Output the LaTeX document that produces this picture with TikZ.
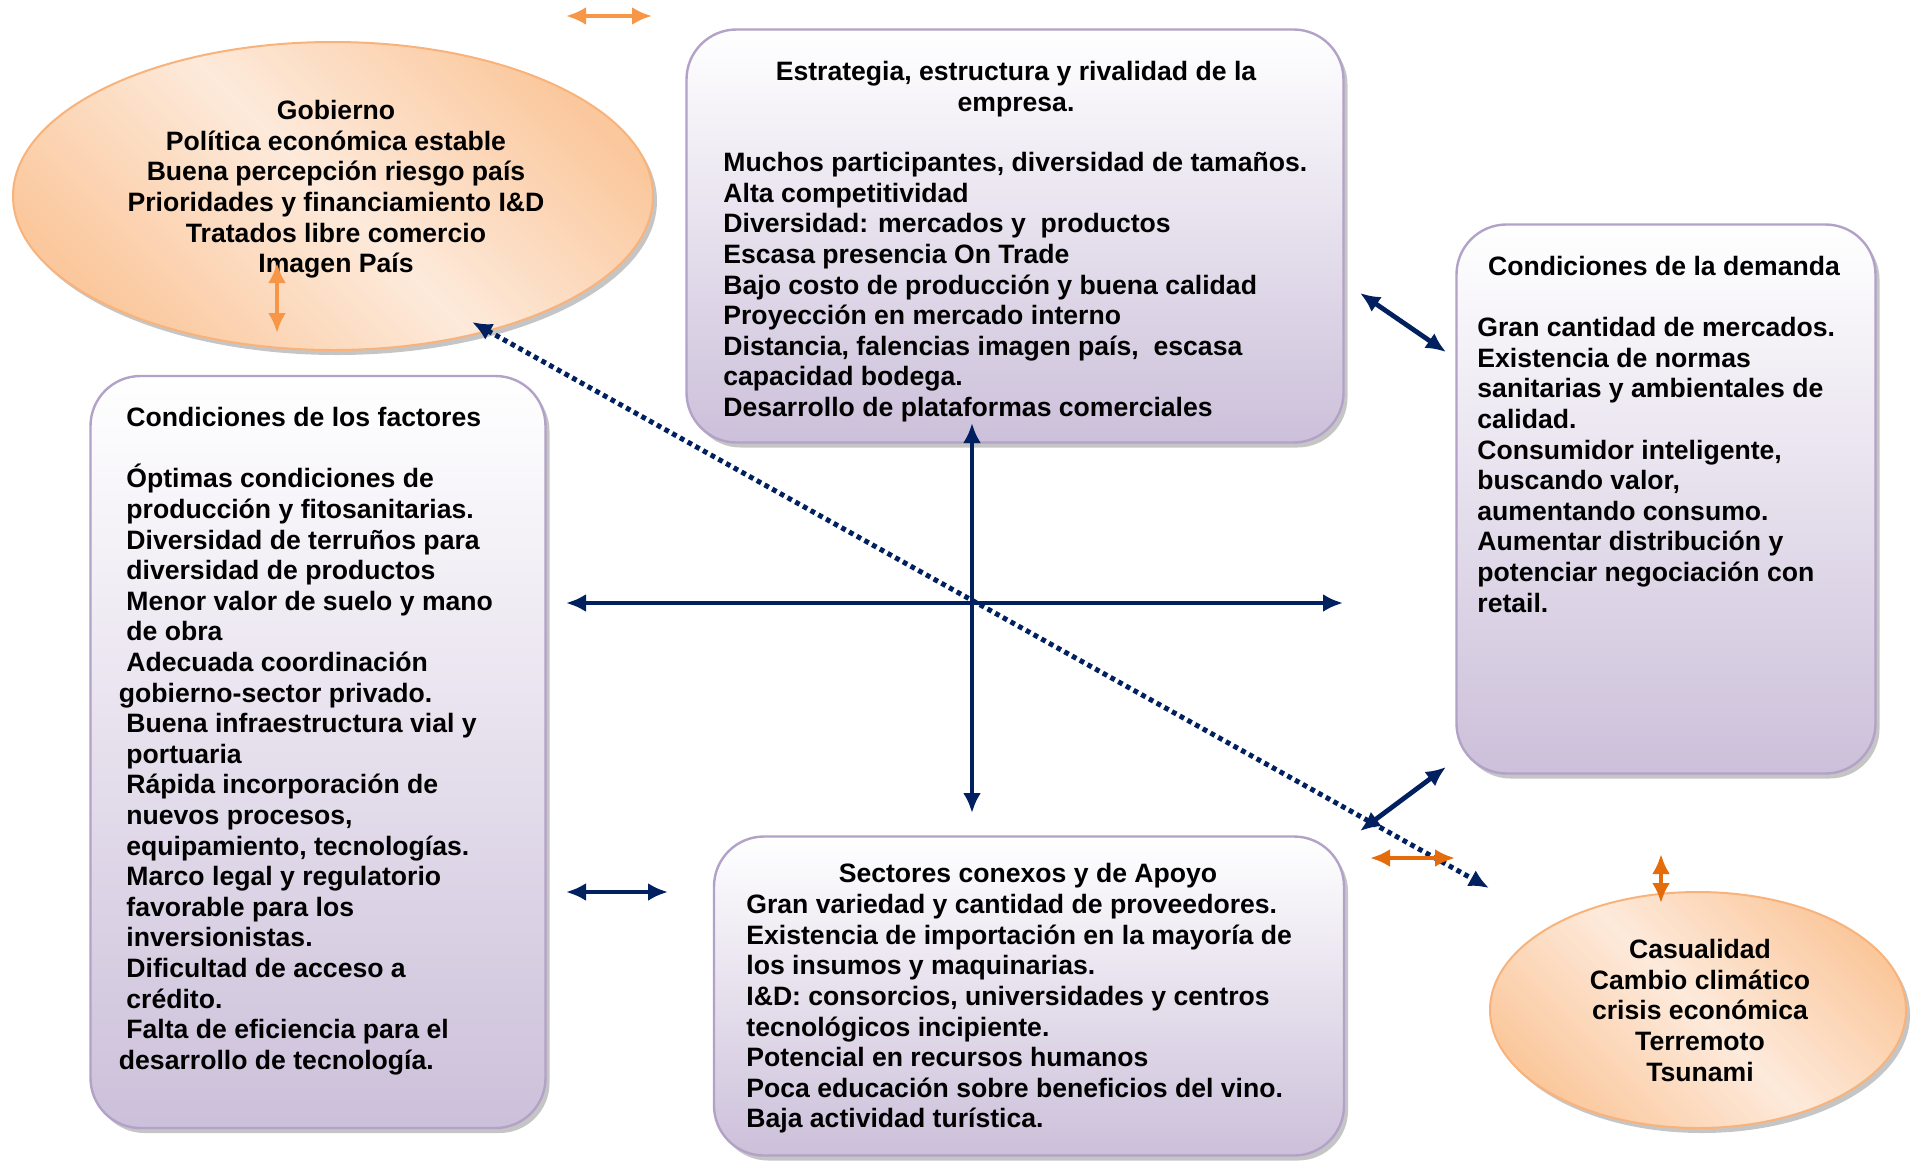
\documentclass[tikz,border=0pt]{standalone}
\usepackage{fontspec}
\setmainfont{Liberation Sans}
\usetikzlibrary{arrows.meta,shapes.geometric,shadows}
\tikzset{>={Latex[length=10pt,width=9pt]}}
\definecolor{lila}{HTML}{CCC0DA}
\definecolor{lilaborde}{HTML}{B3A2C7}
\definecolor{durazno}{HTML}{FBC89D}
\definecolor{duraznoclaro}{HTML}{FDEADB}
\definecolor{duraznoborde}{HTML}{F9B37A}
\definecolor{naranjo}{HTML}{F79646}
\definecolor{naranjoosc}{HTML}{E46C0A}
\definecolor{marino}{HTML}{002060}
\tikzset{
    sombra/.style={drop shadow={shadow xshift=2pt, shadow yshift=-2.5pt, fill=black!45, opacity=.5}},
    caja/.style={rectangle, rounded corners=25pt, draw=lilaborde, line width=1.2pt, top color=white, bottom color=lila, sombra},
    elipse/.style={ellipse, draw=duraznoborde, line width=1pt, left color=durazno, right color=durazno, middle color=duraznoclaro, shading angle=135, sombra},
    texto/.style={inner sep=0pt, font=\bfseries\fontsize{13.3}{15.3}\selectfont},
    flecha/.style={<->, draw=marino, line width=2.4pt},
    punteada/.style={<->, draw=marino, line width=2.5pt, dash pattern=on 2.4pt off 2pt},
    naranja/.style={<->, draw=naranjo, line width=2.2pt},
    naranjaosc/.style={<->, draw=naranjoosc, line width=2.2pt}
}

\begin{document}
\begin{tikzpicture}[x=0.5pt, y=-0.5pt]
            \useasboundingbox (0,0) rectangle (1921,1163);

            \node[elipse, minimum width=320pt, minimum height=154pt] (gob) at (333,196) {};
            \node[caja, minimum width=328.5pt, minimum height=206.5pt] (estr) at (1015,236) {};
            \node[caja, minimum width=209.5pt, minimum height=274.5pt] (dem) at (1666,499) {};
            \node[caja, minimum width=227.5pt, minimum height=376pt] (fact) at (318,752) {};
            \node[caja, minimum width=315pt, minimum height=159.5pt] (sect) at (1029,996) {};
            \node[elipse, minimum width=208pt, minimum height=118pt] (cas) at (1698,1010) {};

            \node[texto, align=center, anchor=north] (gobtxt) at (336,100)
            {Gobierno\\Política económica estable\\Buena percepción riesgo país\\
             Prioridades y financiamiento I\&D\\Tratados libre comercio\\Imagen País};

            \node[texto, align=center, anchor=north] (estrtit) at (1016,61)
            {Estrategia, estructura y rivalidad de la\\empresa.};
            \node[texto, align=left, anchor=north west] (estrtxt) at (723,152)
            {Muchos participantes, diversidad de tamaños.\\Alta competitividad\\
             Diversidad: mercados y~ productos\\Escasa presencia On Trade\\
             Bajo costo de producción y buena calidad\\Proyección en mercado interno\\
             Distancia, falencias imagen país,~ escasa\\capacidad bodega.\\
             Desarrollo de plataformas comerciales};

            \node[texto, align=center, anchor=north] (demtit) at (1664,256) {Condiciones de la demanda};
            \node[texto, align=left, anchor=north west] (demtxt) at (1477,317)
            {Gran cantidad de mercados.\\Existencia de normas\\sanitarias y ambientales de\\calidad.\\
             Consumidor inteligente,\\buscando valor,\\aumentando consumo.\\
             Aumentar distribución y\\potenciar negociación con\\retail.};

            \node[texto, align=left, anchor=north west] (facttit) at (126,407) {Condiciones de los factores};
            \node[texto, align=left, anchor=north west] (facttxt) at (126,464)
            {Óptimas condiciones de\\producción y fitosanitarias.\\Diversidad de terruños para\\
             diversidad de productos\\Menor valor de suelo y mano\\de obra\\Adecuada coordinación\\
             \hspace*{-.28em}gobierno-sector privado.\\Buena infraestructura vial y\\portuaria\\
             Rápida incorporación de\\nuevos procesos,\\equipamiento, tecnologías.\\
             Marco legal y regulatorio\\favorable para los\\inversionistas.\\
             Dificultad de acceso a\\crédito.\\Falta de eficiencia para el\\
             \hspace*{-.28em}desarrollo de tecnología.};

            \node[texto, align=center, anchor=north] (secttit) at (1028,863) {Sectores conexos y de Apoyo};
            \node[texto, align=left, anchor=north west] (secttxt) at (746,894)
            {Gran variedad y cantidad de proveedores.\\
             Existencia de importación en la mayoría de\\los insumos y maquinarias.\\
             I\&D: consorcios, universidades y centros\\tecnológicos incipiente.\\
             Potencial en recursos humanos\\Poca educación sobre beneficios del vino.\\
             Baja actividad turística.};

            \node[texto, align=center, anchor=north] (castxt) at (1700,939)
            {Casualidad\\Cambio climático\\crisis económica\\Terremoto\\Tsunami};

            % extremos de las flechas
            \coordinate (h1) at (566,603);  \coordinate (h2) at (1343,603);
            \coordinate (v1) at (972,423);  \coordinate (v2) at (972,813);
            \coordinate (d1) at (1360,293); \coordinate (d2) at (1446,352);
            \coordinate (d3) at (1360,831); \coordinate (d4) at (1446,767);
            \coordinate (l1) at (566,892);  \coordinate (l2) at (668,892);
            \coordinate (p1) at (472,322);  \coordinate (p2) at (1489,888);
            \coordinate (o1) at (566,16);   \coordinate (o2) at (652,16);
            \coordinate (o3) at (277,263);  \coordinate (o4) at (277,333);
            \coordinate (o5) at (1370,858); \coordinate (o6) at (1455,858);
            \coordinate (o7) at (1661,854); \coordinate (o8) at (1661,903);

            \foreach \a/\b in {h1/h2, v1/v2, d1/d2, d3/d4, l1/l2}
            \draw[flecha] (\a) -- (\b);

            \draw[punteada] (p1) -- (p2);

            \draw[naranja] (o1) -- (o2);
            \draw[naranja] (o3) -- (o4);
            \draw[naranjaosc] (o5) -- (o6);
            \draw[naranjaosc] (o7) -- (o8);
\end{tikzpicture}
\end{document}
